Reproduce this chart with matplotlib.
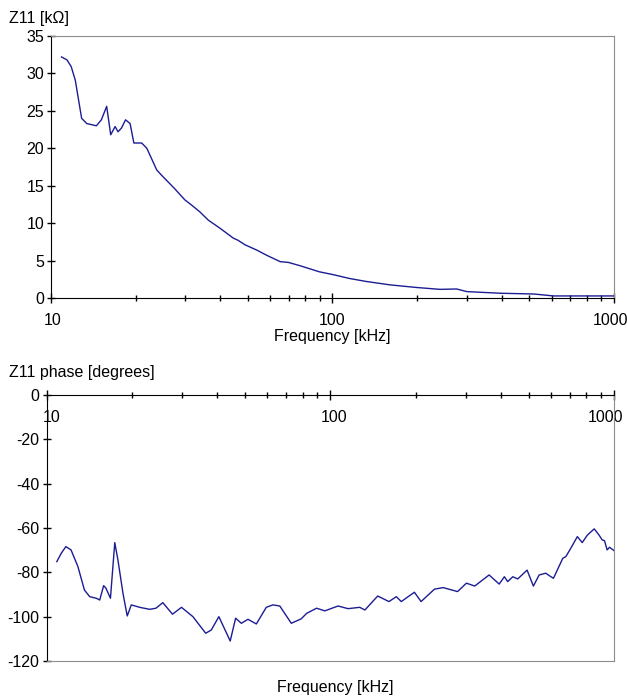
import matplotlib
matplotlib.use('Agg')
import matplotlib.pyplot as plt
from matplotlib.ticker import FixedLocator, NullFormatter
from matplotlib.transforms import ScaledTranslation

plt.rcParams['font.family'] = ['Liberation Sans', 'DejaVu Sans']
plt.rcParams['font.size'] = 11.5
plt.rcParams['axes.unicode_minus'] = False

# magnitude of Z11 [kOhm] vs frequency [kHz]
freq_mag = [10.9, 11.4, 11.8, 12.2, 12.5, 12.85, 13.4, 14.5, 15.1, 15.77, 16.3, 16.9,
            17.3, 17.8, 18.4, 19.1, 19.7, 21.0, 21.9, 23.75, 24.7, 27.5, 29.9, 31.6,
            33.8, 36.2, 39.9, 44.4, 46.2, 48.9, 53.8, 58.4, 65.2, 69.7, 76.8, 89.7,
            101, 115, 132, 160, 199, 241, 276, 300, 395, 519, 610, 1000]
z_mag = [32.2, 31.8, 30.9, 29.1, 26.7, 24.0, 23.3, 23.0, 23.8, 25.6, 21.8, 22.9,
         22.2, 22.7, 23.8, 23.3, 20.7, 20.7, 20.0, 17.1, 16.4, 14.6, 13.1, 12.4,
         11.5, 10.4, 9.3, 8.0, 7.7, 7.1, 6.4, 5.7, 4.85, 4.75, 4.3, 3.5,
         3.1, 2.6, 2.2, 1.75, 1.4, 1.15, 1.2, 0.85, 0.63, 0.53, 0.27, 0.27]

# phase of Z11 [degrees] vs frequency [kHz]
freq_ph = [10.87, 11.27, 11.7, 12.2, 12.9, 13.6, 14.2, 14.97, 15.4, 15.9, 16.2, 16.8,
           17.4, 17.85, 18.6, 19.25, 19.9, 21.3, 23.1, 24.3, 25.7, 27.8, 29.9, 32.8,
           36.4, 38.1, 40.5, 44.4, 46.4, 48.6, 51.3, 54.9, 59.5, 62.8, 66.4, 72.9,
           79.0, 82.6, 89.5, 95.7, 106.6, 115.5, 127, 132.5, 147, 161, 171, 178,
           198, 209, 233, 250, 281, 302, 323, 363, 394, 411, 422, 440, 458, 494,
           520, 545, 575, 593, 612, 660, 677, 704, 743, 773, 806, 852, 886, 909,
           926, 946, 965, 1000]
phase = [-75.2, -71.4, -68.4, -69.9, -77.4, -88.0, -91.0, -91.7, -92.5, -86.0, -87.2, -91.7,
         -66.6, -74.4, -89.5, -99.7, -94.7, -95.8, -96.7, -96.2, -93.7, -98.9, -95.8, -100.0,
         -107.5, -106.0, -100.0, -111.0, -100.7, -103.0, -101.2, -103.3, -95.8, -94.7, -95.2, -103.0,
         -101.0, -98.5, -96.2, -97.4, -95.2, -96.4, -95.8, -97.0, -90.7, -93.2, -91.0, -93.2,
         -89.0, -93.2, -87.6, -86.9, -88.7, -84.9, -86.2, -81.2, -85.3, -82.0, -84.2, -82.0, -83.0, -79.0,
         -86.2, -81.2, -80.4, -81.6, -82.7, -73.7, -72.9, -69.2, -63.9, -66.6, -63.2, -60.4, -63.2, -65.4,
         -65.7, -69.9, -68.7, -70.2]

line_color = '#1c1c94'
major_x = [10, 100, 1000]
minor_x = [m * d for d in (10, 100) for m in range(2, 10)]


def style_log_x(ax, shifts):
    ax.set_xscale('log')
    ax.set_xlim(10, 1000)
    ax.xaxis.set_major_locator(FixedLocator(major_x))
    ax.set_xticklabels([str(v) for v in major_x])
    ax.xaxis.set_minor_locator(FixedLocator(minor_x))
    ax.xaxis.set_minor_formatter(NullFormatter())
    ax.tick_params(axis='x', which='major', direction='inout', length=7, width=1, pad=7)
    ax.tick_params(axis='x', which='minor', direction='inout', length=5, width=1)
    ax.tick_params(axis='y', direction='inout', length=6, width=1, pad=2)
    for lab, dx in zip(ax.get_xticklabels(), shifts):
        lab.set_transform(lab.get_transform() + ScaledTranslation(dx / 100, 0, fig.dpi_scale_trans))
    for s in ('top', 'right'):
        ax.spines[s].set_color('#8c8c8c')
    for s in ('left', 'bottom'):
        ax.spines[s].set_color('black')


fig = plt.figure(figsize=(6.27, 6.97), dpi=100)

# ---- top: magnitude ----
ax1 = fig.add_axes([0.0813, 0.5725, 0.898, 0.3759])
ax1.plot(freq_mag, z_mag, color=line_color, lw=1)
ax1.set_ylim(0, 35)
ax1.set_yticks(range(0, 36, 5))
style_log_x(ax1, [2, 0, -4])
ax1.set_xlabel('Frequency [kHz]', labelpad=1)
fig.text(0.015, 0.973, 'Z11 [kΩ]', ha='left', va='center')

# ---- bottom: phase ----
ax2 = fig.add_axes([0.0742, 0.0517, 0.905, 0.3816])
ax2.plot(freq_ph, phase, color=line_color, lw=1)
ax2.set_ylim(-120, 0)
ax2.set_yticks(range(-120, 1, 20))
# x axis runs along the 0 line, plot-area border at the bottom
ax2.spines['bottom'].set_position(('data', 0))
ax2.spines['top'].set_position(('data', -120))
ax2.xaxis.set_ticks_position('bottom')
style_log_x(ax2, [5, 4, -8])
fig.text(0.535, 0.013, 'Frequency [kHz]', ha='center', va='center')
fig.text(0.015, 0.465, 'Z11 phase [degrees]', ha='left', va='center')

fig.savefig('out.png', dpi=100)
